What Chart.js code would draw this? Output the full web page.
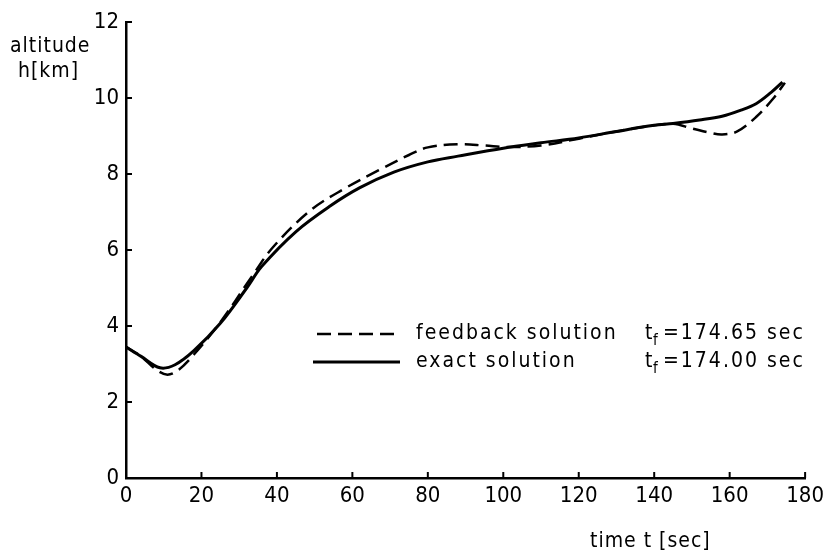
<!DOCTYPE html>
<html>
<head>
<meta charset="utf-8">
<script src="https://cdn.jsdelivr.net/npm/chart.js@4/dist/chart.umd.min.js"></script>
<style>
  html, body { margin: 0; padding: 0; background: #fff; }
  #wrap { width: 829px; height: 556px; position: relative; }
</style>
</head>
<body>
<div id="wrap"><canvas id="altitude-chart"></canvas></div>
<script>
// exact solution, t in sec, h in km
const exactTime = [0, 4, 9, 13, 18, 25, 32, 36, 45, 54, 62, 71, 80, 88, 100, 110, 120, 130, 140, 145, 152, 158, 163, 167, 171, 174];
const exactAlt = [3.45, 3.2, 2.9, 2.98, 3.35, 4.07, 5.0, 5.57, 6.48, 7.15, 7.64, 8.05, 8.32, 8.47, 8.68, 8.82, 8.95, 9.12, 9.28, 9.33, 9.42, 9.52, 9.68, 9.85, 10.15, 10.42];

// feedback solution
const feedbackTime = [0, 4, 8, 11, 14, 18, 25, 33, 39, 49, 58, 67, 75, 80, 88, 95, 101, 110, 120, 130, 140, 145, 150, 155, 158, 162, 167, 171.5, 174.65];
const feedbackAlt = [3.45, 3.2, 2.85, 2.72, 2.85, 3.25, 4.1, 5.25, 6.08, 7.05, 7.62, 8.1, 8.5, 8.7, 8.78, 8.75, 8.71, 8.75, 8.93, 9.12, 9.28, 9.32, 9.2, 9.08, 9.04, 9.12, 9.5, 9.98, 10.4];

const xTicks = [0, 20, 40, 60, 80, 100, 120, 140, 160, 180];
const yTicks = [0, 2, 4, 6, 8, 10, 12];

const legendNames = ['feedback solution', 'exact solution'];
const legendTf = ['174.65 sec', '174.00 sec'];

const FONT = '"DejaVu Sans Condensed", "DejaVu Sans", sans-serif';

function toPoints(xs, ys) {
    return xs.map((x, i) => ({ x: x, y: ys[i] }));
}

// inward tick marks, axis titles, hand-placed legend
const decorPlugin = {
    id: 'decor',
    afterDraw(chart) {
        const ctx = chart.ctx;
        const area = chart.chartArea;
        const xs = chart.scales.x;
        const ys = chart.scales.y;

        ctx.save();
        ctx.strokeStyle = '#000';
        ctx.lineWidth = 2;
        xTicks.forEach(v => {
            const px = xs.getPixelForValue(v);
            ctx.beginPath();
            ctx.moveTo(px, area.bottom);
            ctx.lineTo(px, area.bottom - 6);
            ctx.stroke();
        });
        yTicks.forEach(v => {
            const py = ys.getPixelForValue(v);
            ctx.beginPath();
            ctx.moveTo(area.left, py);
            ctx.lineTo(area.left + 6, py);
            ctx.stroke();
        });

        ctx.fillStyle = '#000';
        ctx.textBaseline = 'middle';
        ctx.textAlign = 'left';
        ctx.font = '21px ' + FONT;
        ctx.letterSpacing = '1px';
        ctx.fillText('altitude', 10, 47);
        ctx.fillText('h[km]', 18, 72);
        ctx.fillText('time t [sec]', 590, 542);

        // legend
        const rows = [334, 362];
        ctx.lineWidth = 2.5;
        ctx.setLineDash([14, 7]);
        ctx.beginPath();
        ctx.moveTo(317, rows[0]);
        ctx.lineTo(400, rows[0]);
        ctx.stroke();
        ctx.setLineDash([]);
        ctx.lineWidth = 3;
        ctx.beginPath();
        ctx.moveTo(313, rows[1]);
        ctx.lineTo(400, rows[1]);
        ctx.stroke();

        ctx.letterSpacing = '2px';
        rows.forEach((y, i) => {
            ctx.font = '21px ' + FONT;
            ctx.fillText(legendNames[i], 416, y);
            ctx.fillText('t', 645, y);
            ctx.font = '15px ' + FONT;
            ctx.fillText('f', 653, y + 7);
            ctx.font = '21px ' + FONT;
            ctx.fillText('=' + legendTf[i], 663, y);
        });
        ctx.restore();
    }
};

new Chart(document.getElementById('altitude-chart'), {
    type: 'line',
    data: {
        datasets: [{
            label: 'feedback solution',
            data: toPoints(feedbackTime, feedbackAlt),
            borderColor: '#000',
            borderWidth: 2.5,
            borderDash: [14, 7],
            pointRadius: 0,
            fill: false,
            tension: 0.35
        }, {
            label: 'exact solution',
            data: toPoints(exactTime, exactAlt),
            borderColor: '#000',
            borderWidth: 3,
            pointRadius: 0,
            fill: false,
            tension: 0.35
        }]
    },
    options: {
        responsive: true,
        maintainAspectRatio: false,
        animation: false,
        layout: { padding: { left: 0, top: 22, right: 20, bottom: 0 } },
        plugins: {
            legend: { display: false },
            tooltip: { enabled: false }
        },
        scales: {
            x: {
                type: 'linear',
                min: 0,
                max: 180,
                afterBuildTicks: s => { s.ticks = xTicks.map(v => ({ value: v })); },
                afterFit: s => { s.height = 78; },
                grid: { display: false, drawTicks: false },
                border: { display: true, color: '#000', width: 2.5 },
                ticks: { color: '#000', padding: 5, maxRotation: 0, font: { family: FONT, size: 22 } }
            },
            y: {
                type: 'linear',
                min: 0,
                max: 12,
                afterBuildTicks: s => { s.ticks = yTicks.map(v => ({ value: v })); },
                afterFit: s => { s.width = 126; },
                grid: { display: false, drawTicks: false },
                border: { display: true, color: '#000', width: 2.5 },
                ticks: { color: '#000', padding: 7, font: { family: FONT, size: 22 } }
            }
        }
    },
    plugins: [decorPlugin]
});
</script>
</body>
</html>
